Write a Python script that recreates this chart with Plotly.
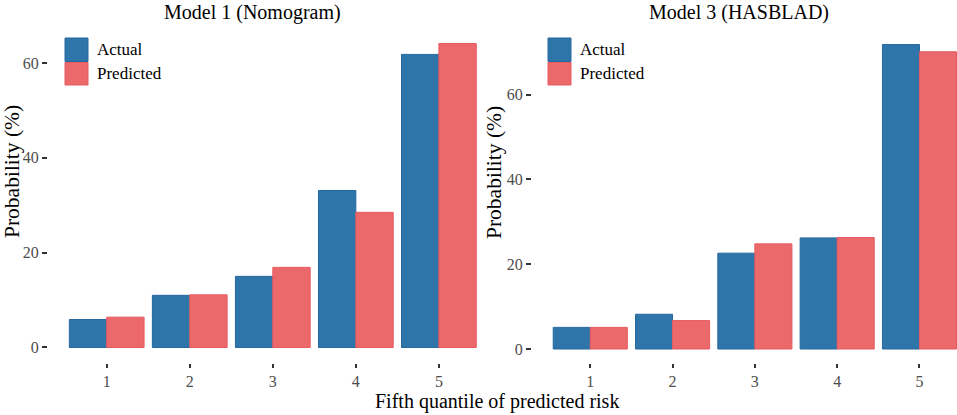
import plotly.graph_objects as go

# ---- data ----
quantiles = [1, 2, 3, 4, 5]
tick_labels = ["1", "2", "3", "4", "5"]
series_names = ["Actual", "Predicted"]
m1_actual = [5.9, 11.0, 15.0, 33.1, 61.8]
m1_pred = [6.4, 11.1, 16.9, 28.5, 64.1]
m3_actual = [5.1, 8.2, 22.6, 26.2, 71.8]
m3_pred = [5.1, 6.7, 24.8, 26.3, 70.1]
y_ticks = [0, 20, 40, 60]

W, H = 957, 415
FONT = "Liberation Serif, Times New Roman, serif"
C_ACT, C_ACT_LINE = "#2E75A9", "#2668A0"
C_PRE, C_PRE_LINE = "#EB686B", "#E85A60"

fig = go.Figure()
for name, vals, col, lc in [("Actual", m1_actual, C_ACT, C_ACT_LINE), ("Predicted", m1_pred, C_PRE, C_PRE_LINE)]:
    fig.add_trace(go.Bar(x=quantiles, y=vals, name=name, marker=dict(color=col, line=dict(color=lc, width=1)),
                         xaxis="x", yaxis="y", offsetgroup=name, showlegend=False))
for name, vals, col, lc in [("Actual", m3_actual, C_ACT, C_ACT_LINE), ("Predicted", m3_pred, C_PRE, C_PRE_LINE)]:
    fig.add_trace(go.Bar(x=quantiles, y=vals, name=name, marker=dict(color=col, line=dict(color=lc, width=1)),
                         xaxis="x2", yaxis="y2", offsetgroup=name, showlegend=False))

def px_x(p):
    return p / W

def px_y(p):
    return 1 - p / H

ydom = [px_y(363), px_y(29)]
tickfont = dict(family=FONT, size=16, color="#4D4D4D")
common_x = dict(tickmode="array", tickvals=quantiles, ticktext=tick_labels, ticks="outside", ticklen=4,
                tickwidth=1.5, tickcolor="#333333", showgrid=False, zeroline=False, showline=False,
                tickfont=tickfont)
common_y = dict(tickmode="array", tickvals=y_ticks, ticks="outside", ticklen=5, tickwidth=1.5,
                tickcolor="#333333", showgrid=False, zeroline=False, showline=False, tickfont=tickfont)

fig.update_layout(
    width=W, height=H,
    margin=dict(l=0, r=0, t=0, b=0),
    paper_bgcolor="white", plot_bgcolor="white",
    barmode="group", bargap=0.1, bargroupgap=0,
    font=dict(family=FONT, color="black"),
    xaxis=dict(domain=[px_x(48), px_x(497.6)], range=[0.293, 5.707], anchor="y", **common_x),
    yaxis=dict(domain=ydom, range=[-3.27, 67.16], anchor="x", **common_y),
    xaxis2=dict(domain=[px_x(532), 1.0], range=[0.292, 5.456], anchor="y2", **common_x),
    yaxis2=dict(domain=ydom, range=[-3.30, 75.47], anchor="x2", **common_y),
    showlegend=False,
)

annotations = [
    dict(text="Model 1 (Nomogram)", x=px_x(252), y=px_y(12), size=20),
    dict(text="Model 3 (HASBLAD)", x=px_x(739), y=px_y(12), size=20),
    dict(text="Fifth quantile of predicted risk", x=px_x(497), y=px_y(401), size=20),
]
for a in annotations:
    fig.add_annotation(text=a["text"], x=a["x"], y=a["y"], xref="paper", yref="paper", showarrow=False,
                       xanchor="center", yanchor="middle", font=dict(family=FONT, size=a["size"], color="black"))
for xc in [12, 494]:
    fig.add_annotation(text="Probability (%)", x=px_x(xc), y=px_y(172), xref="paper", yref="paper",
                       showarrow=False, textangle=-90, xanchor="center", yanchor="middle",
                       font=dict(family=FONT, size=21.5, color="black"))

# legend keys
for x0, tx in [(65, 95), (548, 578)]:
    for (y0, y1), name, col, lc in [((38, 61.5), series_names[0], C_ACT, C_ACT_LINE),
                                    ((62.5, 85), series_names[1], C_PRE, C_PRE_LINE)]:
        fig.add_shape(type="rect", xref="paper", yref="paper", x0=px_x(x0), x1=px_x(x0 + 23),
                      y0=px_y(y1), y1=px_y(y0), fillcolor=col, line=dict(color=lc, width=1))
        fig.add_annotation(text=name, x=px_x(tx), y=px_y((y0 + y1) / 2), xref="paper", yref="paper",
                           showarrow=False, xanchor="left", yanchor="middle",
                           font=dict(family=FONT, size=17, color="black"))

fig.write_html("out.html", config={"displayModeBar": False},
               post_script="document.body.style.margin='0px';document.body.style.overflow='hidden';")
